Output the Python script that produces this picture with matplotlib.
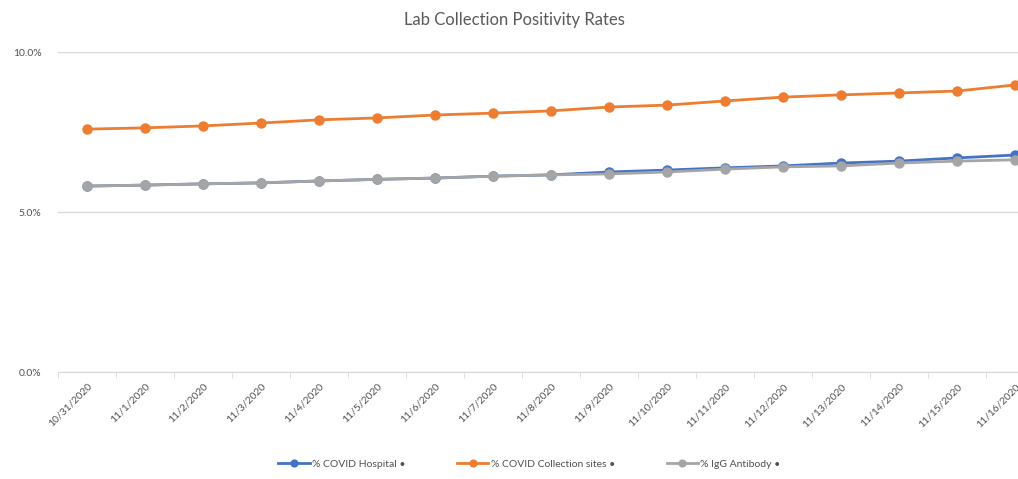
import matplotlib.pyplot as plt
from matplotlib.ticker import PercentFormatter

plt.rcParams['font.family'] = ['Lato', 'DejaVu Sans']

dates = ['10/31/2020', '11/1/2020', '11/2/2020', '11/3/2020', '11/4/2020', '11/5/2020',
         '11/6/2020', '11/7/2020', '11/8/2020', '11/9/2020', '11/10/2020', '11/11/2020',
         '11/12/2020', '11/13/2020', '11/14/2020', '11/15/2020', '11/16/2020']

hospital = [5.81, 5.84, 5.88, 5.91, 5.97, 6.02, 6.06, 6.12, 6.16, 6.25, 6.31, 6.38,
            6.44, 6.53, 6.59, 6.69, 6.78]
collection = [7.59, 7.63, 7.69, 7.78, 7.88, 7.94, 8.03, 8.09, 8.16, 8.28, 8.34, 8.47,
              8.59, 8.66, 8.72, 8.78, 8.97]
igg = [5.81, 5.84, 5.88, 5.91, 5.97, 6.02, 6.06, 6.12, 6.16, 6.19, 6.25, 6.34,
       6.41, 6.44, 6.53, 6.59, 6.63]

fig = plt.figure(figsize=(10.18, 4.79), dpi=100)
ax = fig.add_axes([58 / 1018, 1 - 372 / 479, 986 / 1018, 320 / 479])

x = range(len(dates))
ax.plot(x, hospital, color='#4472C4', lw=2, marker='o', ms=6.5, label='% COVID Hospital •', zorder=3)
ax.plot(x, collection, color='#ED7D31', lw=2, marker='o', ms=6.5, label='% COVID Collection sites •', zorder=3)
ax.plot(x, igg, color='#A5A5A5', lw=2, marker='o', ms=6.5, label='% IgG Antibody •', zorder=4)

ax.set_xlim(-0.5, len(dates) - 0.5)
ax.set_ylim(0, 10)
ax.set_yticks([0, 5, 10])
ax.yaxis.set_major_formatter(PercentFormatter(decimals=1))
ax.grid(axis='y', color='#d9d9d9', lw=1)
ax.set_axisbelow(True)
for s in ['top', 'right', 'left']:
    ax.spines[s].set_visible(False)
ax.spines['bottom'].set_color('#d9d9d9')

ax.set_xticks(list(x))
ax.set_xticklabels(dates, rotation=45, ha='right', rotation_mode='anchor', fontsize=7.5, color='#505050')
ax.set_xticks([i - 0.5 for i in range(len(dates) + 1)], minor=True)
ax.tick_params(axis='x', which='major', length=0, pad=7)
ax.tick_params(axis='x', which='minor', length=4, color='#d9d9d9')
ax.tick_params(axis='y', length=0, pad=12, labelsize=7.5, labelcolor='#505050')

fig.text(0.505, 1 - 20 / 479, 'Lab Collection Positivity Rates', ha='center', va='center',
         fontsize=12, color='#595959')

fig.legend(loc='center', bbox_to_anchor=(0.52, 1 - 464 / 479), ncol=3, frameon=False,
           fontsize=7.5, labelcolor='#505050', columnspacing=5, handlelength=3,
           handletextpad=0.2, markerscale=0.75)

fig.savefig('out.png', dpi=100)
